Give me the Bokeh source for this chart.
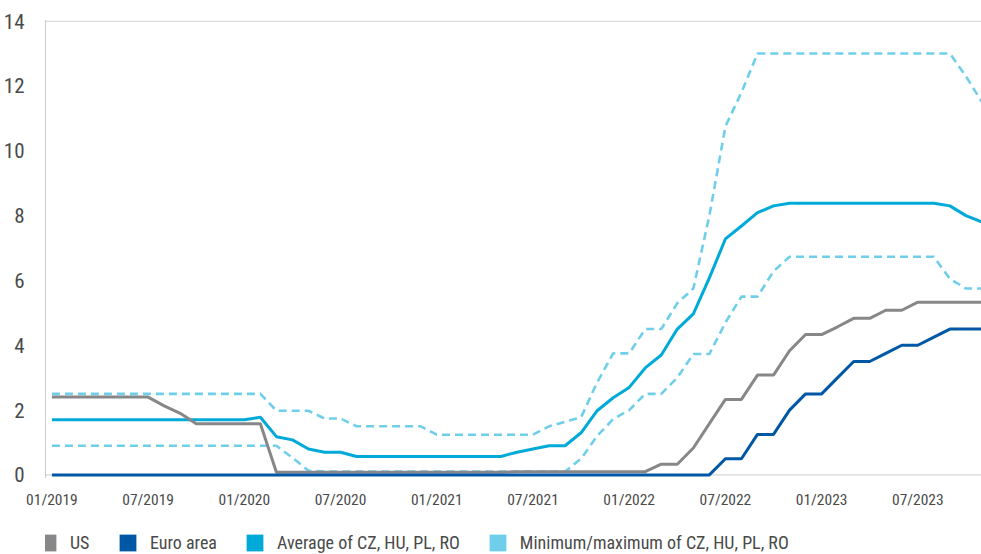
from bokeh.plotting import figure
from bokeh.layouts import column
from bokeh.models import Range1d, FixedTicker, Span, Legend, LegendItem, ColumnDataSource
from bokeh.embed import file_html
from bokeh.resources import INLINE

# ---- data (monthly, 01/2019 .. 11/2023) ----
months = list(range(59))
tick_positions = [0, 6, 12, 18, 24, 30, 36, 42, 48, 54]
tick_labels = ["01/2019", "07/2019", "01/2020", "07/2020", "01/2021",
               "07/2021", "01/2022", "07/2022", "01/2023", "07/2023"]
y_ticks = [0, 2, 4, 6, 8, 10, 12, 14]

us = [2.40] * 7 + [2.13, 1.90] + [1.58] * 5 + [0.08] * 15 + [0.10] * 9 + \
     [0.33, 0.33, 0.83, 1.58, 2.33, 2.33, 3.08, 3.08, 3.83, 4.33, 4.33, 4.57,
      4.83, 4.83, 5.08, 5.08, 5.33, 5.33, 5.33, 5.33, 5.33]
euro_area = [0.0] * 42 + [0.5, 0.5, 1.25, 1.25, 2.0, 2.5, 2.5, 3.0, 3.5, 3.5,
                          3.75, 4.0, 4.0, 4.25, 4.5, 4.5, 4.5]
average_cee = [1.70] * 13 + [1.78, 1.18, 1.08, 0.80, 0.70, 0.70] + [0.57] * 10 + \
              [0.70, 0.80, 0.90, 0.90, 1.30, 1.98, 2.38, 2.70, 3.30, 3.70, 4.50,
               4.97, 6.08, 7.28, 7.68, 8.09, 8.30] + [8.38] * 10 + [8.30, 8.00, 7.80]
max_cee = [2.50] * 14 + [1.98, 1.98, 1.98, 1.74, 1.74] + [1.50] * 5 + [1.24] * 7 + \
          [1.50, 1.64, 1.78, 2.85, 3.75, 3.75, 4.50, 4.50, 5.30, 5.75, 8.00,
           10.75, 11.80] + [13.00] * 13 + [12.30, 11.50]
min_cee = [0.90] * 15 + [0.53, 0.13] + [0.10] * 16 + \
          [0.50, 1.20, 1.72, 2.00, 2.50, 2.50, 3.00, 3.73, 3.73, 4.70, 5.50,
           5.50, 6.28] + [6.73] * 10 + [6.05, 5.75, 5.75]

series_labels = ["US", "Euro area", "Average of CZ, HU, PL, RO",
                 "Minimum/maximum of CZ, HU, PL, RO"]

# ---- style ----
FONT = "Roboto Condensed"
TXT = "#4a4a4a"
C_US = "#87878a"
C_EA = "#0057a6"
C_AVG = "#00aad8"
C_MM = "#6fcfeb"

p = figure(width=981, height=512, output_backend="svg", toolbar_location=None,
           x_range=Range1d(-0.40, 57.97), y_range=Range1d(-0.08, 14.02),
           min_border_left=43, min_border_right=0, min_border_top=20,
           min_border_bottom=35)
p.outline_line_color = None
p.xgrid.visible = False
p.ygrid.visible = False

# y axis
p.yaxis.ticker = FixedTicker(ticks=y_ticks)
p.yaxis.major_tick_line_color = None
p.yaxis.minor_tick_line_color = None
p.yaxis.axis_line_color = "#9a9a9a"
p.yaxis.axis_line_dash = "1 1"
p.yaxis.major_label_text_font = FONT
p.yaxis.major_label_text_font_size = "21px"
p.yaxis.major_label_text_color = TXT
p.yaxis.major_label_standoff = 15

# x axis
p.xaxis.ticker = FixedTicker(ticks=tick_positions)
p.xaxis.major_label_overrides = {t: l for t, l in zip(tick_positions, tick_labels)}
p.xaxis.major_tick_line_color = None
p.xaxis.minor_tick_line_color = None
p.xaxis.axis_line_color = None
p.xaxis.major_label_text_font = FONT
p.xaxis.major_label_text_font_size = "15.5px"
p.xaxis.major_label_text_color = TXT
p.xaxis.major_label_standoff = 7

p.add_layout(Span(location=0, dimension="width", line_color="#9a9a9a",
                  line_dash="1 1", line_width=1, level="underlay"))
p.add_layout(Span(location=14, dimension="width", line_color="#9a9a9a",
                  line_dash="1 1", line_width=1, level="underlay"))

# lines
p.line(months, max_cee, line_color=C_MM, line_width=2.6, line_dash="8 5")
p.line(months, min_cee, line_color=C_MM, line_width=2.6, line_dash="8 5")
p.line(months, average_cee, line_color=C_AVG, line_width=3)
p.line(months, us, line_color=C_US, line_width=3)
p.line(months, euro_area, line_color=C_EA, line_width=3)

# legend strip (separate figure so the legend is not clipped)
lf = figure(width=981, height=42, output_backend="svg", toolbar_location=None,
            x_range=Range1d(0, 1), y_range=Range1d(0, 1),
            x_axis_location=None, y_axis_location=None, min_border=0)
lf.outline_line_color = None
lf.xgrid.visible = False
lf.ygrid.visible = False

nan = float("nan")
items = []
for lab, col in zip(series_labels, [C_US, C_EA, C_AVG, C_MM]):
    src = ColumnDataSource(dict(l=[nan], r=[nan], t=[nan], b=[nan]))
    r = lf.quad(left="l", right="r", top="t", bottom="b", source=src,
                fill_color=col, line_color=None)
    items.append(LegendItem(label=lab, renderers=[r]))

legend = Legend(items=items, orientation="horizontal", location=(-8, 1),
                glyph_width=21, glyph_height=21, label_standoff=12, spacing=27,
                padding=0, margin=0, border_line_color=None,
                background_fill_alpha=0, label_text_font=FONT,
                label_text_font_size="18px", label_text_color=TXT)
lf.add_layout(legend)

layout = column(p, lf, spacing=0)
open("out.html", "w").write(file_html(layout, INLINE))
